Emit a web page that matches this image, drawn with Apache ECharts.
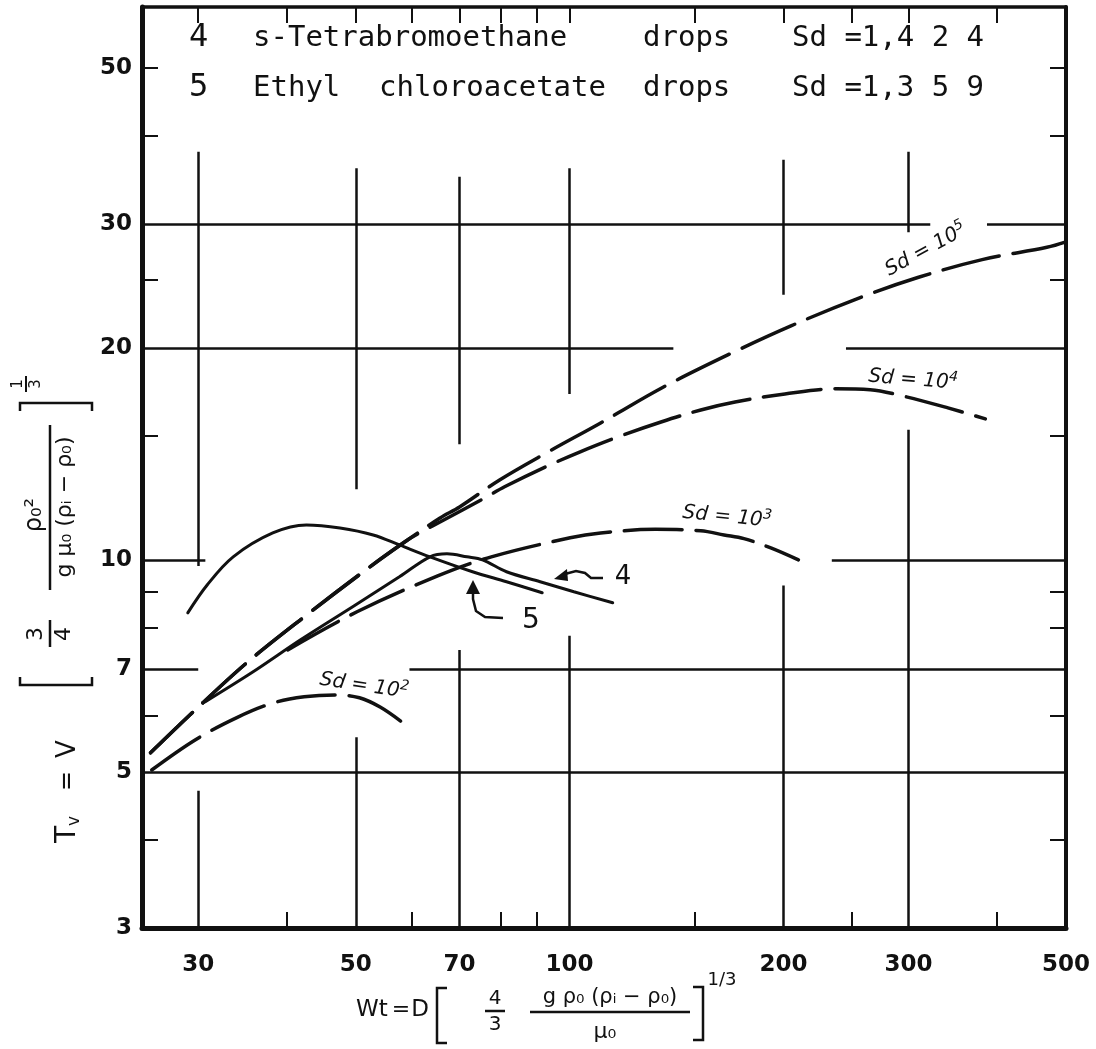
<!DOCTYPE html>
<html>
<head>
<meta charset="utf-8">
<title>Tv against Wt</title>
<script src="https://cdn.jsdelivr.net/npm/echarts@6/dist/echarts.min.js"></script>
<style>
html,body{margin:0;padding:0;background:#fff;}
#chart{width:1096px;height:1049px;}
</style>
</head>
<body>
<div id="chart"></div>
<script>
// values, [Wt, Tv]
const sd5 = [[25.7,5.32],[29.7,6.12],[35.1,7.14],[42.3,8.30],[52.3,9.77],[59.2,10.68],[65.7,11.47],[70.0,11.89],[79.7,12.99],[93.2,14.23],[110.6,15.65],[135,17.56],[167,19.55],[205,21.5],[256,23.56],[310,25.2],[381,26.7],[470,27.8],[500,28.3]];
const sd4 = [[25.7,5.32],[29.7,6.12],[35.1,7.14],[42.3,8.30],[52.3,9.77],[59.2,10.68],[62.6,11.03],[65.7,11.32],[76,12.25],[81,12.7],[93.2,13.6],[103.3,14.23],[118,15.0],[134.5,15.7],[153,16.33],[171,16.76],[201,17.21],[237,17.5],[265,17.45],[294,17.1],[341,16.44],[385,15.86]];
const sd3 = [[40.1,7.45],[50.2,8.44],[65.2,9.49],[77.6,10.1],[100.2,10.75],[110.6,10.92],[132,11.05],[153,11.0],[165,10.85],[176,10.72],[192,10.4],[210,10.0]];
const sd2 = [[25.8,5.03],[29.7,5.55],[34.0,5.97],[38.2,6.26],[42.3,6.39],[47.0,6.43],[50.6,6.37],[54.1,6.18],[58.0,5.89]];
// 4: s-Tetrabromoethane drops, 5: Ethyl chloroacetate drops
const tetra = [[30.7,6.29],[35.8,6.93],[41.8,7.70],[49.5,8.58],[57.6,9.46],[63.6,10.10],[67.2,10.20],[71.7,10.10],[75.4,10.0],[81.5,9.62],[90.9,9.31],[101.4,9.01],[115,8.69]];
const ethyl = [[29.0,8.41],[30.9,9.22],[33.6,10.10],[38.2,10.92],[42.6,11.21],[47.5,11.10],[52.9,10.85],[57.6,10.50],[63.6,10.10],[73.0,9.62],[81.5,9.31],[91.5,8.98]];

const xLabels = [30, 50, 70, 100, 200, 300, 500];
const yLabels = [3, 5, 7, 10, 20, 30, 50];
const xTicksTop = [30, 40, 50, 60, 70, 80, 90, 100, 150, 200, 250, 300, 400];
const xTicksBottom = [40, 60, 80, 90, 150, 250, 400];
const yTicks = [4, 6, 8, 9, 15, 25, 40, 50];
// hand drawn grid is broken where text and curves pass
const vGrid = [[30,38,9.8],[30,4.7,3],[50,36,12.6],[50,5.6,3],[70,35,14.6],[70,7.45,3],[100,36,17.2],[100,7.8,3],[200,37,23.8],[200,9.2,3],[300,38,29.2],[300,15.3,3]];
const hGrid = [[30,25,322],[30,387,500],[20,25,140],[20,245,500],[10,25,30.7],[10,234,500],[7,25,30],[7,59.5,500],[5,25,500]];

const gridSegs = vGrid.map(([x, a, b]) => ({coords: [[x, a], [x, b]]}))
  .concat(hGrid.map(([y, a, b]) => ({coords: [[a, y], [b, y]]})));

const ink = '#111';
const labelFont = {color: ink, fontSize: 23, fontWeight: 'bold', fontFamily: 'DejaVu Sans'};

function curve(data, dashed) {
  return {
    type: 'line', data: data, symbol: 'none', smooth: 0.35, z: 4,
    lineStyle: {color: ink, width: dashed ? 3.5 : 3, type: dashed ? [58, 14] : 'solid', cap: 'round'}
  };
}

function logAxis(min, max, pos, width, ticks, labels, margin) {
  return {
    type: 'log', logBase: 10, min: min, max: max, position: pos,
    axisLine: {show: true, onZero: false, lineStyle: {color: ink, width: width}},
    axisTick: {show: true, inside: true, length: 16, customValues: ticks, lineStyle: {color: ink, width: 2}},
    minorTick: {show: false},
    splitLine: {show: false},
    axisLabel: labels ? Object.assign({show: true, customValues: labels, margin: margin}, labelFont) : {show: false}
  };
}

const sdText = (x, y, rot, p) => ({
  type: 'text', x: x, y: y, rotation: rot, z: 10,
  style: {text: '{a|Sd = 10}{s|' + p + '}', align: 'center', verticalAlign: 'middle', fill: ink,
    rich: {a: {fontSize: 20, fontStyle: 'italic', fontFamily: 'DejaVu Sans', lineHeight: 26, fill: ink},
           s: {fontSize: 14, fontStyle: 'italic', fontFamily: 'DejaVu Sans', lineHeight: 14, verticalAlign: 'top', fill: ink}}}
});
const word = (x, y, t, size) => ({
  type: 'text', x: x, y: y, z: 10,
  style: {text: t, fill: ink, font: (size || 29) + 'px "DejaVu Sans Mono"', verticalAlign: 'middle'}
});
const txt = (x, y, t, size, align) => ({
  type: 'text', x: x, y: y, z: 10,
  style: {text: t, fill: ink, font: size + 'px "DejaVu Sans"', align: align || 'center', verticalAlign: 'middle'}
});
const seg = (pts, w) => ({type: 'polyline', z: 10, shape: {points: pts}, style: {stroke: ink, lineWidth: w || 2.5, fill: null}});
const head = (pts) => ({type: 'polygon', z: 10, shape: {points: pts}, style: {fill: ink}});

const chart = echarts.init(document.getElementById('chart'));
chart.setOption({
  animation: false,
  backgroundColor: '#fff',
  grid: {left: 142, right: 30, top: 7, bottom: 121},
  xAxis: [
    logAxis(25, 500, 'bottom', 5, xTicksBottom, xLabels, 26),
    logAxis(25, 500, 'top', 3.5, xTicksTop, null)
  ],
  yAxis: [
    logAxis(3, 61, 'left', 5, yTicks, yLabels, 10),
    logAxis(3, 61, 'right', 4, yTicks, null)
  ],
  series: [
    {type: 'lines', coordinateSystem: 'cartesian2d', data: gridSegs, silent: true, z: 2,
     lineStyle: {color: ink, width: 2.5, opacity: 1}},
    curve(sd5, true),
    curve(sd4, true),
    curve(sd3, true),
    curve(sd2, true),
    curve(tetra, false),
    curve(ethyl, false)
  ],
  graphic: [
    // key lines at the top
    word(189, 38, '4', 32), word(253, 38, 's-Tetrabromoethane'), word(643, 38, 'drops'), word(792, 38, 'Sd =1,4 2 4'),
    word(189, 88, '5', 32), word(253, 88, 'Ethyl'), word(379, 88, 'chloroacetate'), word(643, 88, 'drops'), word(792, 88, 'Sd =1,3 5 9'),
    // curve labels
    sdText(926, 250, 0.5, '5'),
    sdText(913, 380, -0.08, '4'),
    sdText(727, 517, -0.1, '3'),
    sdText(364, 686, -0.15, '2'),
    txt(623, 577, '4', 26),
    seg([[603, 578], [591, 578], [585, 573], [576, 571], [565, 574]]),
    head([[554, 579], [567, 569], [568, 581]]),
    txt(531, 621, '5', 28),
    seg([[503, 618], [485, 617], [476, 611], [473, 599], [473, 592]]),
    head([[473, 580], [466, 594], [480, 594]]),
    // y axis title, written bottom to top
    {type: 'group', x: 50, y: 845, rotation: Math.PI / 2, children: [
      {type: 'text', x: 2, y: 18, z: 10, style: {text: '{t|T}{v|v}', fill: ink, verticalAlign: 'middle',
        rich: {t: {fontSize: 28, fontFamily: 'DejaVu Sans', lineHeight: 30, fill: ink},
               v: {fontSize: 17, fontFamily: 'DejaVu Sans', lineHeight: 14, verticalAlign: 'bottom', fill: ink}}}},
      txt(64, 18, '=', 24),
      txt(96, 18, 'V', 26),
      seg([[168, -30], [160, -30], [160, 42], [168, 42]]),
      txt(211, -14, '3', 22),
      seg([[198, 0], [225, 0]]),
      txt(211, 14, '4', 22),
      seg([[255, 0], [420, 0]]),
      txt(330, -15, 'ρ₀²', 24),
      txt(338, 15, 'g μ₀ (ρᵢ − ρ₀)', 22),
      seg([[434, -30], [442, -30], [442, 42], [434, 42]]),
      txt(461, -32, '1', 15),
      seg([[453, -24], [469, -24]], 2),
      txt(461, -14, '3', 15)
    ]},
    // x axis title
    txt(372, 1010, 'Wt', 23),
    txt(401, 1010, '=', 22),
    txt(420, 1010, 'D', 23),
    seg([[447, 988], [437, 988], [437, 1043], [447, 1043]]),
    txt(495, 999, '4', 20),
    seg([[485, 1011], [505, 1011]]),
    txt(495, 1025, '3', 20),
    txt(610, 998, 'g ρ₀ (ρᵢ − ρ₀)', 21),
    seg([[530, 1012], [690, 1012]]),
    txt(605, 1032, 'μ₀', 22),
    seg([[693, 987], [703, 987], [703, 1040], [693, 1040]]),
    txt(722, 980, '1/3', 18)
  ]
});
</script>
</body>
</html>
